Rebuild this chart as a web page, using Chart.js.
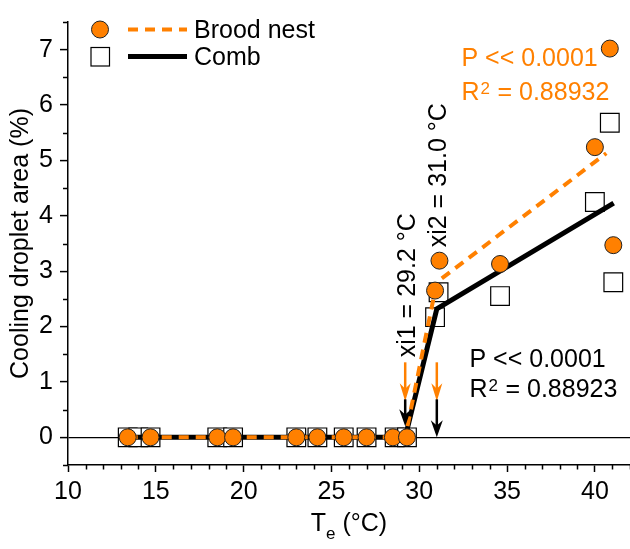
<!DOCTYPE html>
<html><head><meta charset="utf-8">
<script src="https://cdn.jsdelivr.net/npm/chart.js@4/dist/chart.umd.min.js"></script>
<style>html,body{margin:0;padding:0;background:#fff;} #wrap{width:630px;height:549px;}</style>
</head><body><div id="wrap"><canvas id="c" width="630" height="549"></canvas></div>
<script>
// ---- data ----
const broodX = [13.4, 14.7, 18.5, 19.4, 23.0, 24.2, 25.7, 27.0, 28.5, 29.3, 30.9, 31.15, 34.6, 40.0, 40.85, 41.05];
const broodY = [0, 0, 0, 0, 0, 0, 0, 0, 0, 0, 2.65, 3.19, 3.13, 5.24, 7.02, 3.47];
const combX = [13.4, 14.0, 14.7, 18.5, 19.4, 23.0, 24.2, 25.7, 27.0, 28.6, 29.3, 30.9, 31.1, 34.6, 40.0, 40.85, 41.05];
const combY = [0, 0, 0, 0, 0, 0, 0, 0, 0, 0, 0, 2.17, 2.62, 2.55, 4.25, 5.68, 2.80];
const broodFitX = [13.4, 29.2, 31.0, 40.65];
const broodFitY = [0, 0, 2.80, 5.13];
const combFitX = [13.4, 29.2, 31.0, 41.07];
const combFitY = [0, 0, 2.32, 4.23];
const breakpoints = [29.2, 31.0];
const breakLabels = ['xi1 = 29.2 °C', 'xi2 = 31.0 °C'];
const broodStats = ['P << 0.0001', '0.88932'];
const combStats = ['P << 0.0001', '0.88923'];
const seriesNames = ['Brood nest', 'Comb'];
const xTicks = [10, 15, 20, 25, 30, 35, 40];
const yTicks = [0, 1, 2, 3, 4, 5, 6, 7];
const xRange = [10, 42];
const yRange = [-0.5, 7.5];
const xTitle = ['T', 'e', ' (°C)'];
const yTitle = 'Cooling droplet area (%)';

const FONT = '"Liberation Sans", Arial, sans-serif';
const FS = 25;
const ORANGE = '#FF8000';
const pts = (xs, ys) => xs.map((x, i) => ({x: x, y: ys[i]}));

function arrow(ctx, x, y0, y1, color, lw, hw, hl) {
  ctx.save();
  ctx.strokeStyle = color; ctx.fillStyle = color; ctx.lineWidth = lw;
  ctx.beginPath(); ctx.moveTo(x, y0); ctx.lineTo(x, y1 - hl * 0.6); ctx.stroke();
  ctx.beginPath();
  ctx.moveTo(x, y1);
  ctx.lineTo(x - hw / 2, y1 - hl);
  ctx.lineTo(x, y1 - hl * 0.7);
  ctx.lineTo(x + hw / 2, y1 - hl);
  ctx.closePath(); ctx.fill();
  ctx.restore();
}

function statText(ctx, x, y1, y2, st, color) {
  ctx.save();
  ctx.fillStyle = color; ctx.textAlign = 'left'; ctx.textBaseline = 'alphabetic';
  ctx.font = FS + 'px ' + FONT;
  ctx.fillText(st[0], x, y1);
  ctx.fillText('R', x, y2);
  const w = ctx.measureText('R').width;
  ctx.font = '17px ' + FONT;
  ctx.fillText('2', x + w + 1, y2 - 6);
  const w2 = ctx.measureText('2').width;
  ctx.font = FS + 'px ' + FONT;
  ctx.fillText(' = ' + st[1], x + w + w2 + 1.5, y2);
  ctx.restore();
}

const annot = {
  id: 'annot',
  afterDatasetsDraw(chart) {
    const ctx = chart.ctx, xs = chart.scales.x, ys = chart.scales.y;
    const y0 = ys.getPixelForValue(0);
    breakpoints.forEach((b, i) => {
      const px = xs.getPixelForValue(b);
      arrow(ctx, px, y0 - 75, y0 - 36, ORANGE, 2.5, 11, 18);
      arrow(ctx, px, y0 - 38, i === 0 ? y0 - 11 : y0, '#000', 2.5, 12, 17);
      ctx.save();
      ctx.translate(px + 9.5, y0 - (i === 0 ? 80 : 190));
      ctx.rotate(-Math.PI / 2);
      ctx.fillStyle = '#000'; ctx.font = FS + 'px ' + FONT;
      ctx.textAlign = 'left'; ctx.textBaseline = 'alphabetic';
      ctx.fillText(breakLabels[i], 0, 0);
      ctx.restore();
    });
    statText(ctx, 461.5, 66, 100, broodStats, ORANGE);
    statText(ctx, 469.5, 366.5, 396.5, combStats, '#000');
  },
  afterDraw(chart) {
    const ctx = chart.ctx, xs = chart.scales.x, ys = chart.scales.y, a = chart.chartArea;
    ctx.save();
    ctx.strokeStyle = '#000'; ctx.lineWidth = 1.5;
    for (let v = xRange[0]; v <= xRange[1]; v += 1) {
      if (xTicks.includes(v)) continue;
      const p = Math.round(xs.getPixelForValue(v)) + 0.5;
      ctx.beginPath(); ctx.moveTo(p, a.bottom); ctx.lineTo(p, a.bottom + 4.5); ctx.stroke();
    }
    for (let v = yRange[0]; v <= yRange[1] + 1e-9; v += 0.5) {
      if (yTicks.includes(v)) continue;
      const p = Math.round(ys.getPixelForValue(v)) + 0.5;
      ctx.beginPath(); ctx.moveTo(a.left, p); ctx.lineTo(a.left - 5, p); ctx.stroke();
    }
    ctx.fillStyle = '#000'; ctx.textBaseline = 'alphabetic';
    ctx.font = FS + 'px ' + FONT;
    const w1 = ctx.measureText(xTitle[0]).width;
    const w3 = ctx.measureText(xTitle[2]).width;
    ctx.font = '17px ' + FONT;
    const w2 = ctx.measureText(xTitle[1]).width;
    const cx = (a.left + a.right) / 2;
    let sx = cx - (w1 + w2 + w3) / 2;
    ctx.font = FS + 'px ' + FONT; ctx.textAlign = 'left';
    ctx.fillText(xTitle[0], sx, 531);
    ctx.font = '17px ' + FONT;
    ctx.fillText(xTitle[1], sx + w1, 539);
    ctx.font = FS + 'px ' + FONT;
    ctx.fillText(xTitle[2], sx + w1 + w2, 531);
    ctx.save();
    ctx.translate(28, (a.top + a.bottom) / 2);
    ctx.rotate(-Math.PI / 2);
    ctx.textAlign = 'center';
    ctx.fillText(yTitle, 0, 0);
    ctx.restore();
    // legend
    ctx.beginPath(); ctx.arc(100, 29.5, 8.5, 0, Math.PI * 2);
    ctx.fillStyle = ORANGE; ctx.fill(); ctx.strokeStyle = '#222'; ctx.lineWidth = 1; ctx.stroke();
    ctx.beginPath(); ctx.setLineDash([10, 7]); ctx.strokeStyle = ORANGE; ctx.lineWidth = 4;
    ctx.moveTo(128, 29.5); ctx.lineTo(187, 29.5); ctx.stroke(); ctx.setLineDash([]);
    ctx.fillStyle = '#fff'; ctx.fillRect(91, 47.5, 18.5, 18.5);
    ctx.strokeStyle = '#000'; ctx.lineWidth = 1.2; ctx.strokeRect(91, 47.5, 18.5, 18.5);
    ctx.beginPath(); ctx.lineWidth = 5; ctx.moveTo(128, 56.5); ctx.lineTo(187, 56.5); ctx.stroke();
    ctx.fillStyle = '#000'; ctx.font = FS + 'px ' + FONT; ctx.textAlign = 'left';
    ctx.fillText(seriesNames[0], 194, 37.5);
    ctx.fillText(seriesNames[1], 194, 64.5);
    ctx.restore();
  }
};

new Chart(document.getElementById('c'), {
  type: 'scatter',
  data: {
    datasets: [
      {label: seriesNames[0], data: pts(broodX, broodY), showLine: false, pointStyle: 'circle',
       pointRadius: 8.5, pointBackgroundColor: ORANGE, pointBorderColor: '#222', pointBorderWidth: 1, order: 1, clip: false},
      {label: 'Brood fit', data: pts(broodFitX, broodFitY), showLine: true, borderColor: ORANGE,
       borderWidth: 4, borderDash: [10, 7], pointRadius: 0, order: 2, clip: false},
      {label: 'Comb fit', data: pts(combFitX, combFitY), showLine: true, borderColor: '#000',
       borderWidth: 5, pointRadius: 0, order: 3, clip: false},
      {label: seriesNames[1], data: pts(combX, combY), showLine: false, pointStyle: 'rect',
       pointRadius: 13.2, pointBackgroundColor: '#fff', pointBorderColor: '#000', pointBorderWidth: 1.2, order: 4, clip: false}
    ]
  },
  options: {
    responsive: false, animation: false, events: [],
    layout: {padding: {top: 12, right: 0, left: 0, bottom: 0}, autoPadding: false},
    plugins: {legend: {display: false}, tooltip: {enabled: false}},
    scales: {
      x: {
        type: 'linear', min: xRange[0], max: xRange[1],
        afterBuildTicks: s => { s.ticks = xTicks.map(v => ({value: v})); },
        afterFit: s => { s.height = 84; },
        grid: {drawOnChartArea: false, drawTicks: true, tickLength: 7, tickColor: '#000', tickWidth: 1.5},
        border: {display: true, color: '#000', width: 1.5},
        ticks: {color: '#000', font: {family: FONT, size: FS}, padding: 5, maxRotation: 0, autoSkip: false}
      },
      y: {
        type: 'linear', min: yRange[0], max: yRange[1],
        afterBuildTicks: s => { s.ticks = yTicks.map(v => ({value: v})); },
        afterFit: s => { s.width = 68; },
        grid: {drawOnChartArea: true, color: c => (c.tick && c.tick.value === 0) ? '#000' : 'rgba(0,0,0,0)',
               lineWidth: 1.2, drawTicks: true, tickLength: 8, tickColor: '#000', tickWidth: 1.5},
        border: {display: true, color: '#000', width: 1.5},
        ticks: {color: '#000', font: {family: FONT, size: FS}, padding: 7, autoSkip: false}
      }
    }
  },
  plugins: [annot]
});
</script>
</body></html>
